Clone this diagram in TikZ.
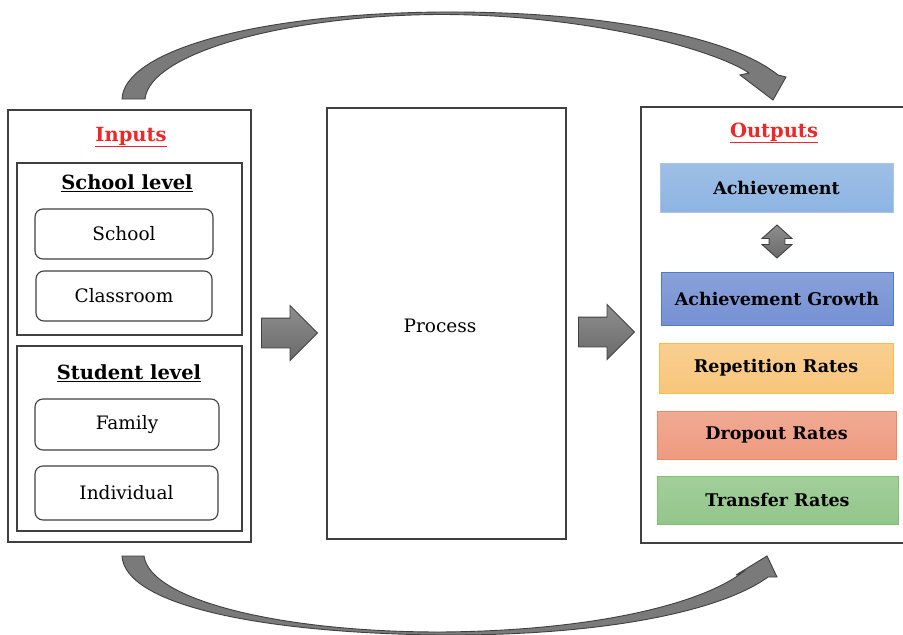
\documentclass[tikz,border=0pt]{standalone}
\usepackage{fontspec}
\setmainfont{DejaVu Serif}
\usetikzlibrary{shapes.arrows}

\definecolor{framegray}{HTML}{404040}
\definecolor{arrowgray}{HTML}{7A7A7A}
\definecolor{arrowlight}{HTML}{8E8E8E}
\definecolor{arrowdark}{HTML}{6A6A6A}
\definecolor{titlered}{HTML}{EE2828}
\definecolor{achfill}{HTML}{8DB4E2}
\definecolor{achline}{HTML}{A9C6EA}
\definecolor{growfill}{HTML}{7591D3}
\definecolor{growline}{HTML}{5479C4}
\definecolor{repfill}{HTML}{F8C67C}
\definecolor{repline}{HTML}{F4BE48}
\definecolor{dropfill}{HTML}{EE9B80}
\definecolor{dropline}{HTML}{EB8A5E}
\definecolor{transfill}{HTML}{93C689}
\definecolor{transline}{HTML}{86BE78}

\tikzset{
	size/.style 2 args={minimum width=#1pt, minimum height=#2pt, inner sep=0pt},
	frame/.style={draw=framegray, line width=1.1pt, fill=white},
	item/.style={frame, rounded corners=8pt},
	title/.style={font=\fontsize{19.5}{23}\selectfont\bfseries},
	result/.style={draw=#1line, line width=1pt, top color=#1fill!85!white, bottom color=#1fill,
		font=\fontsize{17.5}{21}\selectfont\bfseries},
	blockarrow/.style={single arrow, draw=framegray, line width=0.9pt, top color=arrowlight, bottom color=arrowdark,
		inner sep=14.5pt, minimum height=56pt, single arrow head extend=12.5pt},
	bendarrow/.style={draw=framegray, line width=0.9pt, fill=arrowgray}
}

\begin{document}
\begin{tikzpicture}[x=1pt, y=-1pt, font=\fontsize{18.5}{22}\selectfont]
	\useasboundingbox (0,0) rectangle (903,635);

	% columns
	\node[frame, size={243}{432}]	(inputs)	at (129.5,326)	{};
	\node[frame, size={239}{431}]	(process)	at (446.5,323.5)	{};
	\node[frame, size={279}{436}]	(outputs)	at (780.5,325)	{};

	\node[title, text=titlered]	(inputs-title)	at (131,137)	{\underline{Inputs}};
	\node[title, text=titlered]	(outputs-title)	at (774,133)	{\underline{Outputs}};
	\node	(process-label)	at (440,326)	{Process};

	% input levels
	\node[frame, size={225}{172}]	(school-level)	at (129.5,249)	{};
	\node[frame, size={225}{185}]	(student-level)	at (129.5,438.5)	{};
	\node[title]	(school-title)	at (127,183)	{\underline{School level}};
	\node[title]	(student-title)	at (129,373)	{\underline{Student level}};

	\node[item, size={178}{50}]	(school)	at (124,234)	{School};
	\node[item, size={176}{50}]	(classroom)	at (124,296)	{Classroom};
	\node[item, size={184}{51}]	(family)	at (127,424.5)	{Family};
	\node[item, size={183}{54}]	(individual)	at (126.5,493)	{Individual};

	% outputs
	\node[result=ach, size={233}{49}]	(achievement)	at (776.5,187.5)	{Achievement};
	\node[double arrow, draw=framegray, line width=0.9pt, top color=arrowlight, bottom color=arrowdark,
		inner sep=7.5pt, minimum height=33pt, double arrow head extend=7pt, double arrow tip angle=96,
		shape border rotate=90]
		(link)	at (777,241.5)	{};
	\node[result=grow, size={232}{53}]	(growth)	at (777,298.5)	{Achievement Growth};
	\node[result=rep, size={234}{50}]	(repetition)	at (776,368)	{Repetition Rates};
	\node[result=drop, size={239}{48}]	(dropout)	at (776.5,435)	{Dropout Rates};
	\node[result=trans, size={241}{48}]	(transfer)	at (777.5,500)	{Transfer Rates};

	% flow between the columns
	\node[blockarrow, anchor=tail]	(to-process)	at (261,333)	{};
	\node[blockarrow, anchor=tail]	(to-outputs)	at (578,332)	{};

	% feedback over the top
	\draw[bendarrow] (122,99) .. controls (124,52) and (250,14) .. (440,12)
		.. controls (600,11) and (730,36) .. (778,75)
		-- (786,77) -- (773,100) -- (740,75) -- (749,73)
		.. controls (715,50) and (590,14.5) .. (440,14.5)
		.. controls (290,15) and (150,52) .. (145,99) -- cycle;

	% feedback underneath
	\draw[bendarrow] (122,556) .. controls (125,605) and (260,633) .. (440,635)
		.. controls (600,636) and (720,612) .. (768,577)
		-- (777,577) -- (767,556) -- (736,575) -- (743,572)
		.. controls (700,605) and (590,631) .. (440,632)
		.. controls (280,632) and (150,600) .. (144,556) -- cycle;

\end{tikzpicture}
\end{document}
